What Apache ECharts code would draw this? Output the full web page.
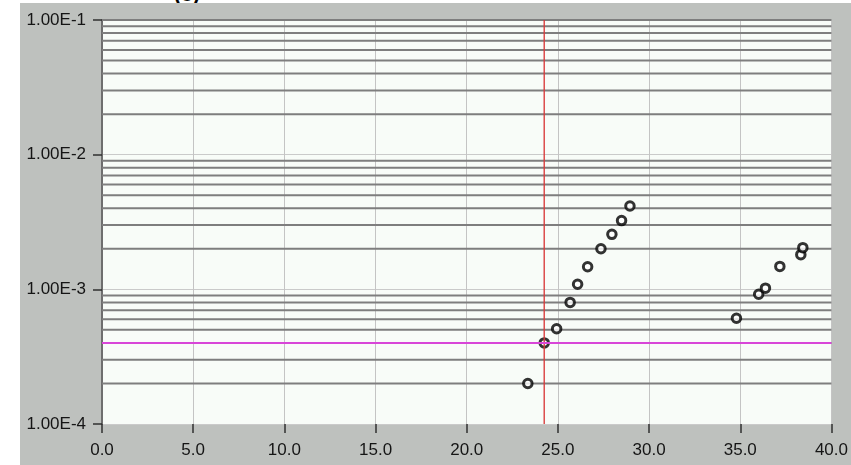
<!DOCTYPE html>
<html>
<head>
<meta charset="utf-8">
<script src="https://cdn.jsdelivr.net/npm/echarts@6/dist/echarts.min.js"></script>
<style>
  html, body { margin: 0; padding: 0; background: #ffffff; width: 851px; height: 465px; overflow: hidden; position: relative; }
  #chart { position: absolute; left: 20px; top: 3px; width: 831px; height: 462px; }
  #tag { position: absolute; left: 174px; top: -18px; font: bold 21px 'Liberation Sans', Arial, sans-serif; color: #000; }
</style>
</head>
<body>
<div id="tag">(c)</div>
<div id="chart"></div>
<script>
// ---- data ----
const xValues = [23.35, 24.25, 24.93, 25.67, 26.08, 26.63, 27.36, 27.96, 28.49, 28.95,
                 34.79, 36.01, 36.38, 37.17, 38.32, 38.43];
const yValues = [2.0e-4, 4.0e-4, 5.1e-4, 8.0e-4, 1.09e-3, 1.47e-3, 2.0e-3, 2.56e-3, 3.24e-3, 4.16e-3,
                 6.1e-4, 9.2e-4, 1.02e-3, 1.48e-3, 1.81e-3, 2.04e-3];
const yTickLabels = ['1.00E-4', '1.00E-3', '1.00E-2', '1.00E-1'];
const yTickExponents = [-4, -3, -2, -1];
const decades = [1e-4, 1e-3, 1e-2];
const minorMultipliers = [2, 3, 4, 5, 6, 7, 8, 9];
const xMin = 0, xMax = 40, yMin = 1e-4, yMax = 1e-1;
const cursorX = 24.25;
const thresholdY = 4.0e-4;

const points = xValues.map((x, i) => [x, yValues[i]]);
const minorValues = [];
decades.forEach(d => minorMultipliers.forEach(m => minorValues.push(d * m)));
minorValues.push(yMax);

const font = "'Liberation Sans', Arial, sans-serif";

const hLine = (v, color, width, z) => ({
  type: 'line', data: [[xMin, v], [xMax, v]], symbol: 'none', silent: true, z: z,
  lineStyle: { color: color, width: width }, animation: false
});

const series = minorValues.map(v => hLine(v, '#7e7e7e', 2, 1));
series.push({
  type: 'scatter', data: points, z: 3,
  symbol: 'circle', symbolSize: 8.5,
  itemStyle: { color: '#ffffff', borderColor: '#000000', borderWidth: 3 }
});
series.push({
  type: 'line', data: [[cursorX, yMin], [cursorX, yMax]], symbol: 'none', silent: true, z: 5,
  lineStyle: { color: '#d83838', width: 1.5, opacity: 0.9 }
});
series.push(hLine(thresholdY, '#d846d8', 2, 5));

const chart = echarts.init(document.getElementById('chart'));
chart.setOption({
  animation: false,
  backgroundColor: '#bec1be',
  grid: { left: 82, top: 17, right: 14, bottom: 41, show: true, backgroundColor: '#f8fcf8', borderWidth: 0 },
  xAxis: {
    type: 'value', min: xMin, max: xMax, interval: 5,
    axisLine: { show: false },
    axisTick: { show: true, length: 9, lineStyle: { color: '#303030', width: 1.5 } },
    axisLabel: { formatter: v => v.toFixed(1), color: '#151515', fontFamily: font, fontSize: 17, margin: 18 },
    splitLine: { show: true, lineStyle: { color: '#c4c4c4', width: 1 } }
  },
  yAxis: {
    type: 'log', logBase: 10, min: yMin, max: yMax,
    axisLine: { show: true, lineStyle: { color: '#6e6e6e', width: 2 } },
    axisTick: { show: true, length: 9, lineStyle: { color: '#303030', width: 1.5 } },
    axisLabel: {
      formatter: v => {
        const e = Math.round(Math.log10(v));
        const i = yTickExponents.indexOf(e);
        return i >= 0 ? yTickLabels[i] : '';
      },
      color: '#151515', fontFamily: font, fontSize: 17, margin: 16
    },
    splitLine: { show: true, lineStyle: { color: '#cacaca', width: 1 } }
  },
  series: series
});
</script>
</body>
</html>
